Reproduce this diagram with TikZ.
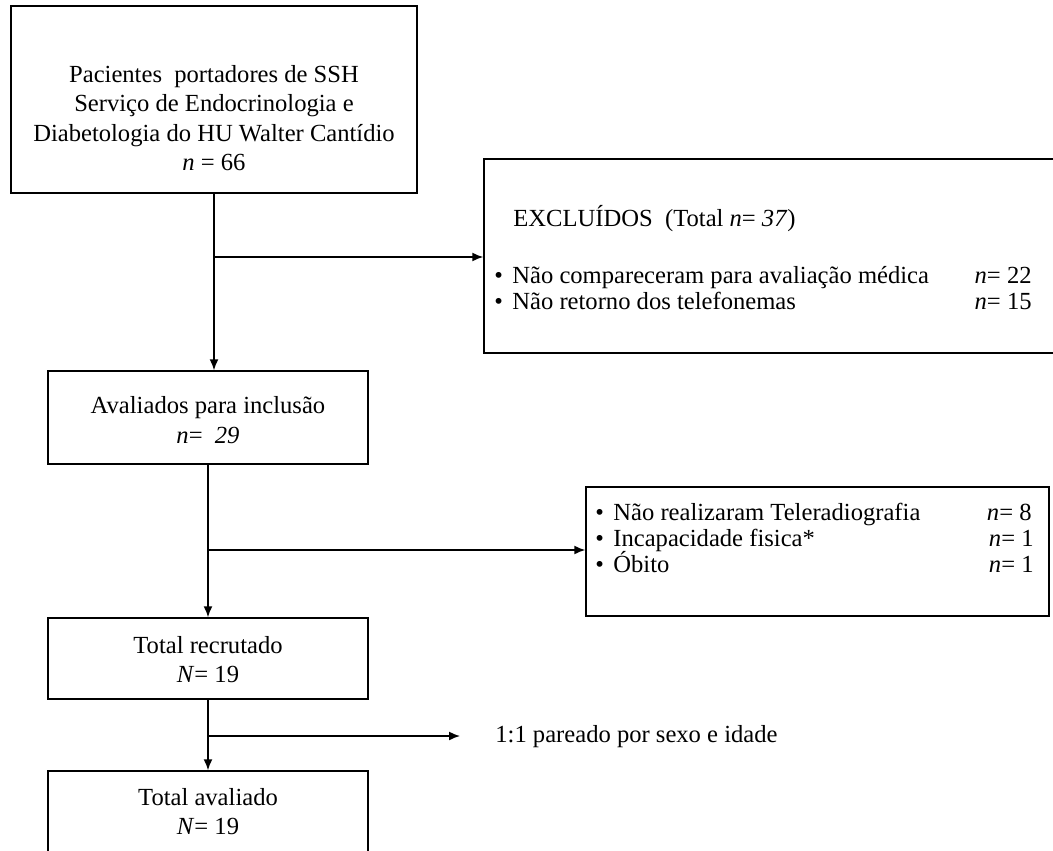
\documentclass[tikz,border=0pt]{standalone}
\usepackage{fontspec}
\setmainfont{Liberation Serif}
\usetikzlibrary{arrows.meta}
\begin{document}
\begin{tikzpicture}[x=0.5pt,y=-0.5pt,
  box/.style={draw, line width=0.75pt, inner sep=0pt},
  lbl/.style={inner sep=0pt, align=center, font=\fontsize{12.3}{14.6}\selectfont},
  row/.style={inner sep=0pt, anchor=base west, font=\fontsize{12.3}{14.6}\selectfont},
  num/.style={inner sep=0pt, anchor=base east, font=\fontsize{12.3}{14.6}\selectfont},
  arr/.style={line width=0.75pt, -{Latex[length=5.5pt,width=4.5pt]}}]
\useasboundingbox (0,0) rectangle (1053,850);
% boxes
\node[box, minimum width=203pt, minimum height=93.5pt] (b1) at (214,99.5) {};
\node[box, minimum width=289pt, minimum height=97pt] (b3) at (773,256) {};
\node[box, minimum width=160pt, minimum height=46.5pt] (b2) at (208,417.5) {};
\node[box, minimum width=231.5pt, minimum height=64.5pt] (b5) at (817.5,551.5) {};
\node[box, minimum width=160pt, minimum height=40.5pt] (b4) at (208,658.5) {};
\node[box, minimum width=160pt, minimum height=42pt] (b6) at (208,813) {};
% texts
\node[lbl] (t1) at (214,118) {Pacientes\ \ portadores de SSH\\ Serviço de Endocrinologia e\\ Diabetologia do HU Walter Cantídio\\ \textit{n} = 66};
\node[lbl] (t2) at (208,420) {Avaliados para inclusão\\ \textit{n}=\ \ \textit{29}};
\node[lbl] (t4) at (208,659.5) {Total recrutado\\ \textit{N}= 19};
\node[lbl] (t6) at (208,811.5) {Total avaliado\\ \textit{N}= 19};
\node[row] (e0) at (513,227) {EXCLUÍDOS\ \ (Total \textit{n}= \textit{37})};
\node[row] (e1) at (494,283) {\makebox[9pt][l]{•}Não compareceram para avaliação médica};
\node[num] (e1n) at (1032,283) {\textit{n}= 22};
\node[row] (e2) at (494,309) {\makebox[9pt][l]{•}Não retorno dos telefonemas};
\node[num] (e2n) at (1032,309) {\textit{n}= 15};
\node[row] (r1) at (595,520) {\makebox[9pt][l]{•}Não realizaram Teleradiografia};
\node[num] (r1n) at (1032,520) {\textit{n}= 8};
\node[row] (r2) at (595,546) {\makebox[9pt][l]{•}Incapacidade fisica*};
\node[num] (r2n) at (1034,546) {\textit{n}= 1};
\node[row] (r3) at (595,572) {\makebox[9pt][l]{•}Óbito};
\node[num] (r3n) at (1034,572) {\textit{n}= 1};
\node[row] (m) at (495,742) {1:1 pareado por sexo e idade};
% connectors
\coordinate (j1) at (b1.south |- 0,257);
\coordinate (j2) at (b2.south |- 0,550);
\coordinate (j3) at (b4.south |- 0,736);
\coordinate (m0) at (460,736);
\draw[arr] (b1.south) -- (b1.south |- b2.north);
\draw[arr] (j1) -- (j1 -| b3.west);
\draw[arr] (b2.south) -- (b4.north);
\draw[arr] (j2) -- (j2 -| b5.west);
\draw[arr] (b4.south) -- (b6.north);
\draw[arr] (j3) -- (m0);
\end{tikzpicture}
\end{document}
